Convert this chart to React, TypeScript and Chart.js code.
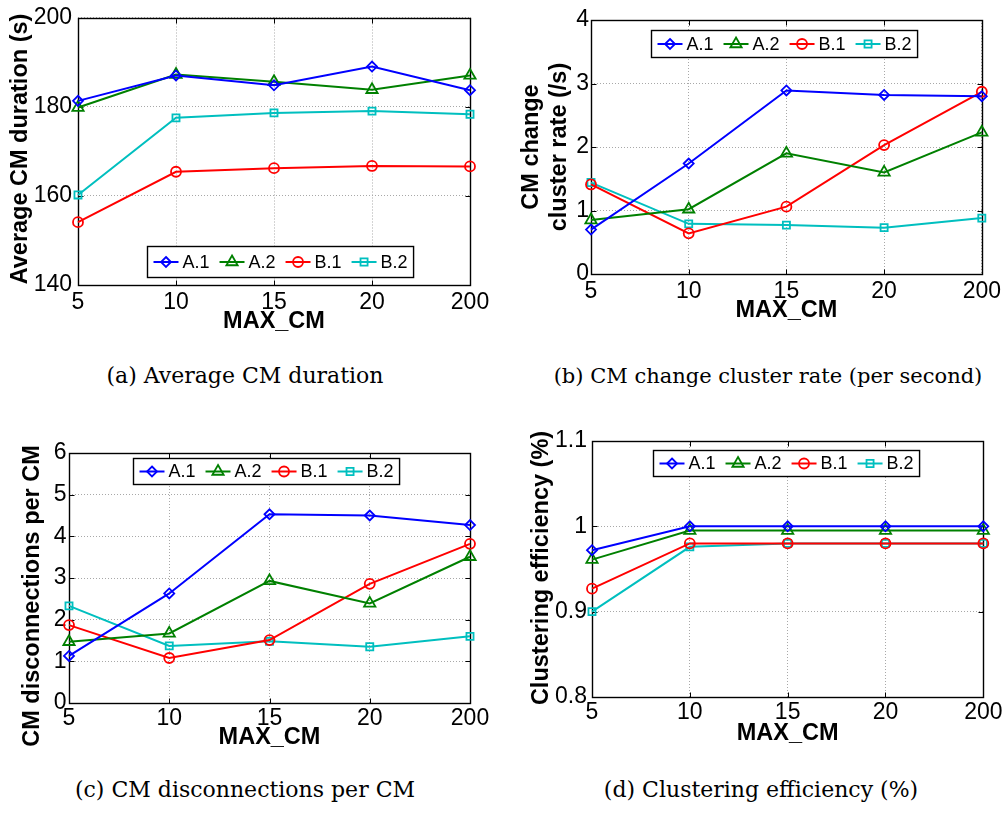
import React, { useEffect, useRef } from 'react';
import { Chart, registerables } from 'chart.js';

Chart.register(...registerables);

// ---------- data ----------
const categories = ['5', '10', '15', '20', '200'];
const seriesNames = ['A.1', 'A.2', 'B.1', 'B.2'];
const seriesColors = ['#0000ff', '#008000', '#ff0000', '#00bfbf'];
const seriesMarkers = ['rectRot', 'triangle', 'circle', 'rect'];
const markerRadius = [5, 6.5, 5, 5];

const durationA1 = [181.3, 187.0, 184.8, 189.0, 183.7];
const durationA2 = [179.8, 187.2, 185.6, 183.8, 187.0];
const durationB1 = [154.1, 165.4, 166.2, 166.7, 166.6];
const durationB2 = [160.2, 177.5, 178.6, 179.0, 178.3];

const rateA1 = [0.7, 1.74, 2.89, 2.82, 2.8];
const rateA2 = [0.85, 1.02, 1.9, 1.6, 2.23];
const rateB1 = [1.41, 0.64, 1.06, 2.03, 2.87];
const rateB2 = [1.44, 0.79, 0.77, 0.73, 0.88];

const discA1 = [1.13, 2.63, 4.53, 4.5, 4.27];
const discA2 = [1.47, 1.67, 2.93, 2.39, 3.51];
const discB1 = [1.87, 1.08, 1.51, 2.86, 3.82];
const discB2 = [2.33, 1.37, 1.48, 1.35, 1.6];

const effA1 = [0.972, 1.0, 1.0, 1.0, 1.0];
const effA2 = [0.961, 0.995, 0.995, 0.995, 0.995];
const effB1 = [0.927, 0.98, 0.98, 0.98, 0.98];
const effB2 = [0.9, 0.976, 0.98, 0.98, 0.98];

const yTicksDuration = [140, 160, 180, 200];
const yLabelsDuration = ['140', '160', '180', '200'];
const yTicksRate = [0, 1, 2, 3, 4];
const yLabelsRate = ['0', '1', '2', '3', '4'];
const yTicksDisc = [0, 1, 2, 3, 4, 5, 6];
const yLabelsDisc = ['0', '1', '2', '3', '4', '5', '6'];
const yTicksEff = [0.8, 0.9, 1.0, 1.1];
const yLabelsEff = ['0.8', '0.9', '1', '1.1'];

const xTitle = 'MAX_CM';
const yTitleDuration = ['Average CM duration (s)'];
const yTitleRate = ['CM change', 'cluster rate (/s)'];
const yTitleDisc = ['CM disconnections per CM'];
const yTitleEff = ['Clustering efficiency (%)'];

const captionA = '(a) Average CM duration';
const captionB = '(b) CM change cluster rate (per second)';
const captionC = '(c) CM disconnections per CM';
const captionD = '(d) Clustering efficiency (%)';

// ---------- drawing helpers ----------
const SANS = '"Liberation Sans", Arial, Helvetica, sans-serif';

function drawMarker(ctx: CanvasRenderingContext2D, style: string, x: number, y: number, r: number) {
  ctx.beginPath();
  if (style === 'circle') {
    ctx.arc(x, y, r, 0, Math.PI * 2);
  } else if (style === 'rectRot') {
    ctx.moveTo(x, y - r);
    ctx.lineTo(x + r, y);
    ctx.lineTo(x, y + r);
    ctx.lineTo(x - r, y);
    ctx.closePath();
  } else if (style === 'triangle') {
    let rad = 0;
    ctx.moveTo(x + Math.sin(rad) * r, y - Math.cos(rad) * r);
    rad += (2 * Math.PI) / 3;
    ctx.lineTo(x + Math.sin(rad) * r, y - Math.cos(rad) * r);
    rad += (2 * Math.PI) / 3;
    ctx.lineTo(x + Math.sin(rad) * r, y - Math.cos(rad) * r);
    ctx.closePath();
  } else {
    const s = r * Math.SQRT1_2;
    ctx.rect(x - s, y - s, 2 * s, 2 * s);
  }
  ctx.stroke();
}

const framePlugin = {
  id: 'frameBox',
  beforeDatasetsDraw(chart: any) {
    const { ctx, chartArea: a, scales } = chart;
    const xs = scales.x;
    const ys = scales.y;
    ctx.save();
    ctx.strokeStyle = '#000';
    ctx.lineWidth = 1;
    ctx.beginPath();
    const L = Math.round(a.left) + 0.5;
    const R = Math.round(a.right) + 0.5;
    const T = Math.round(a.top) + 0.5;
    const B = Math.round(a.bottom) + 0.5;
    xs.ticks.forEach((_: any, i: number) => {
      const px = Math.round(xs.getPixelForTick(i)) + 0.5;
      ctx.moveTo(px, B);
      ctx.lineTo(px, B - 5);
      ctx.moveTo(px, T);
      ctx.lineTo(px, T + 5);
    });
    ys.ticks.forEach((_: any, i: number) => {
      const py = Math.round(ys.getPixelForTick(i)) + 0.5;
      ctx.moveTo(L, py);
      ctx.lineTo(L + 5, py);
      ctx.moveTo(R, py);
      ctx.lineTo(R - 5, py);
    });
    ctx.stroke();
    ctx.lineWidth = 1.4;
    ctx.strokeRect(L, T, R - L, B - T);
    ctx.restore();
  },
};

const boxLegendPlugin = {
  id: 'boxLegend',
  afterDatasetsDraw(chart: any, _args: any, opts: any) {
    if (!opts || !opts.show) return;
    const ctx: CanvasRenderingContext2D = chart.ctx;
    ctx.save();
    ctx.font = `${opts.fontSize}px ${SANS}`;
    const lineLen = 25;
    const gapText = 4;
    const gapItem = 10;
    const padL = 6;
    const padR = 6;
    const items = chart.data.datasets.map((ds: any) => ({ ds, w: ctx.measureText(ds.label).width }));
    let total = padL + padR;
    items.forEach((it: any, i: number) => {
      total += lineLen + gapText + it.w + (i < items.length - 1 ? gapItem : 0);
    });
    const x0 = Math.round(opts.cx - total / 2) + 0.5;
    const y0 = Math.round(opts.top) + 0.5;
    ctx.fillStyle = '#fff';
    ctx.fillRect(x0, y0, total, opts.height);
    ctx.strokeStyle = '#000';
    ctx.lineWidth = 1.4;
    ctx.strokeRect(x0, y0, total, opts.height);
    let x = x0 + padL;
    const yc = y0 + opts.height / 2;
    items.forEach(({ ds, w }: any) => {
      ctx.strokeStyle = ds.borderColor;
      ctx.lineWidth = ds.borderWidth;
      ctx.beginPath();
      ctx.moveTo(x, yc);
      ctx.lineTo(x + lineLen, yc);
      ctx.stroke();
      ctx.lineWidth = ds.pointBorderWidth;
      drawMarker(ctx, ds.pointStyle, x + lineLen / 2, yc, ds.pointRadius);
      ctx.fillStyle = '#000';
      ctx.textAlign = 'left';
      ctx.textBaseline = 'middle';
      ctx.fillText(ds.label, x + lineLen + gapText, yc + 1);
      x += lineLen + gapText + w + gapItem;
    });
    ctx.restore();
  },
};

const axisTextPlugin = {
  id: 'axisText',
  afterDraw(chart: any, _args: any, o: any) {
    if (!o || !o.show) return;
    const ctx: CanvasRenderingContext2D = chart.ctx;
    const a = chart.chartArea;
    ctx.save();
    ctx.fillStyle = '#000';
    ctx.font = `bold ${o.size}px ${SANS}`;
    ctx.textAlign = 'center';
    ctx.textBaseline = 'middle';
    ctx.fillText(o.xText, (a.left + a.right) / 2, o.xY);
    (o.yLines as string[]).forEach((t, i) => {
      ctx.save();
      ctx.translate(o.yX[i], o.yY);
      ctx.rotate(-Math.PI / 2);
      ctx.fillText(t, 0, 0);
      ctx.restore();
    });
    ctx.restore();
  },
};

// ---------- panel ----------
type Spec = {
  box: [number, number, number, number];
  area: [number, number, number, number];
  series: number[][];
  yTicks: number[];
  yLabels: string[];
  yTitle: string[];
  yTitleX: number[];
  yTitleY: number;
  xTitleY: number;
  xPad: number;
  yPad: number;
  legend: { cx: number; top: number; height: number };
};

function Panel({ spec }: { spec: Spec }) {
  const ref = useRef<HTMLCanvasElement | null>(null);
  useEffect(() => {
    if (!ref.current) return;
    const [cx, cy, w, h] = spec.box;
    const [l, t, r, b] = spec.area;
    const tickFont = { family: SANS, size: 23, lineHeight: 1 };
    const gridColor = '#a8a8a8';
    const chart = new Chart(ref.current, {
      type: 'line',
      data: {
        labels: categories,
        datasets: spec.series.map((d, i) => ({
          label: seriesNames[i],
          data: d,
          borderColor: seriesColors[i],
          backgroundColor: 'rgba(0,0,0,0)',
          borderWidth: 2,
          pointStyle: seriesMarkers[i] as any,
          pointRadius: markerRadius[i],
          pointBorderWidth: 1.8,
          pointBorderColor: seriesColors[i],
          pointBackgroundColor: 'rgba(0,0,0,0)',
          tension: 0,
          clip: false as any,
        })),
      },
      options: {
        responsive: false,
        maintainAspectRatio: false,
        animation: false,
        events: [],
        layout: { padding: { left: 0, top: t - cy, right: cx + w - r, bottom: 0 } },
        plugins: {
          legend: { display: false },
          tooltip: { enabled: false },
          title: { display: false },
          boxLegend: { show: true, fontSize: 18, cx: spec.legend.cx - cx, top: spec.legend.top - cy, height: spec.legend.height },
          axisText: {
            show: true,
            size: 23.5,
            xText: xTitle,
            xY: spec.xTitleY - cy,
            yLines: spec.yTitle,
            yX: spec.yTitleX.map((v) => v - cx),
            yY: spec.yTitleY - cy,
          },
        } as any,
        scales: {
          x: {
            type: 'category',
            offset: false,
            grid: { color: gridColor, lineWidth: 1, drawTicks: false },
            border: { display: false, dash: [1, 2] },
            ticks: { font: tickFont, color: '#000', padding: spec.xPad, maxRotation: 0, autoSkip: false },
            afterFit: (s: any) => {
              s.height = cy + h - b;
            },
          },
          y: {
            type: 'linear',
            min: spec.yTicks[0],
            max: spec.yTicks[spec.yTicks.length - 1],
            afterBuildTicks: (s: any) => {
              s.ticks = spec.yTicks.map((value) => ({ value }));
            },
            grid: { color: gridColor, lineWidth: 1, drawTicks: false },
            border: { display: false, dash: [1, 2] },
            ticks: {
              font: tickFont,
              color: '#000',
              padding: spec.yPad,
              callback: (_v: any, i: number) => spec.yLabels[i],
            },
            afterFit: (s: any) => {
              s.width = l - cx;
            },
          },
        },
      } as any,
      plugins: [framePlugin, boxLegendPlugin, axisTextPlugin],
    });
    return () => chart.destroy();
  }, [spec]);
  const [cx, cy, w, h] = spec.box;
  return (
    <canvas
      ref={ref}
      width={w}
      height={h}
      style={{ position: 'absolute', left: cx, top: cy, width: w, height: h, display: 'block' }}
    />
  );
}

const specs: Spec[] = [
  {
    box: [0, 0, 500, 332],
    area: [78, 15, 470, 285],
    series: [durationA1, durationA2, durationB1, durationB2],
    yTicks: yTicksDuration,
    yLabels: yLabelsDuration,
    yTitle: yTitleDuration,
    yTitleX: [21],
    yTitleY: 149,
    xTitleY: 322,
    xPad: 6.5,
    yPad: 6,
    legend: { cx: 280, top: 246, height: 31 },
  },
  {
    box: [500, 0, 507, 340],
    area: [591, 20, 985, 274],
    series: [rateA1, rateA2, rateB1, rateB2],
    yTicks: yTicksRate,
    yLabels: yLabelsRate,
    yTitle: yTitleRate,
    yTitleX: [531.5, 560],
    yTitleY: 147,
    xTitleY: 311,
    xPad: 6,
    yPad: 2,
    legend: { cx: 784, top: 30, height: 27 },
  },
  {
    box: [0, 425, 500, 330],
    area: [69, 453, 470, 703],
    series: [discA1, discA2, discB1, discB2],
    yTicks: yTicksDisc,
    yLabels: yLabelsDisc,
    yTitle: yTitleDisc,
    yTitleX: [33],
    yTitleY: 596,
    xTitleY: 737.5,
    xPad: 4.5,
    yPad: 2.5,
    legend: { cx: 266, top: 458, height: 26 },
  },
  {
    box: [500, 420, 507, 335],
    area: [592, 441, 986, 697],
    series: [effA1, effA2, effB1, effB2],
    yTicks: yTicksEff,
    yLabels: yLabelsEff,
    yTitle: yTitleEff,
    yTitleX: [542],
    yTitleY: 568,
    xTitleY: 734,
    xPad: 4.5,
    yPad: 5,
    legend: { cx: 786, top: 450, height: 26 },
  },
];

const captions = [
  { text: captionA, cx: 245, capCenter: 376, size: 22 },
  { text: captionB, cx: 768, capCenter: 376, size: 21 },
  { text: captionC, cx: 245, capCenter: 790, size: 22 },
  { text: captionD, cx: 761, capCenter: 790, size: 22 },
];

export default function App() {
  return (
    <div style={{ position: 'absolute', left: 0, top: 0, width: 1007, height: 814, background: '#fff', overflow: 'hidden' }}>
      {specs.map((s, i) => (
        <Panel key={i} spec={s} />
      ))}
      {captions.map((c, i) => (
        <div
          key={'c' + i}
          style={{
            position: 'absolute',
            left: c.cx - 300,
            width: 600,
            top: c.capCenter - 0.4815 * c.size,
            textAlign: 'center',
            fontFamily: '"DejaVu Serif", serif',
            fontSize: c.size,
            lineHeight: `${c.size}px`,
            whiteSpace: 'nowrap',
            color: '#000',
          }}
        >
          {c.text}
        </div>
      ))}
    </div>
  );
}
